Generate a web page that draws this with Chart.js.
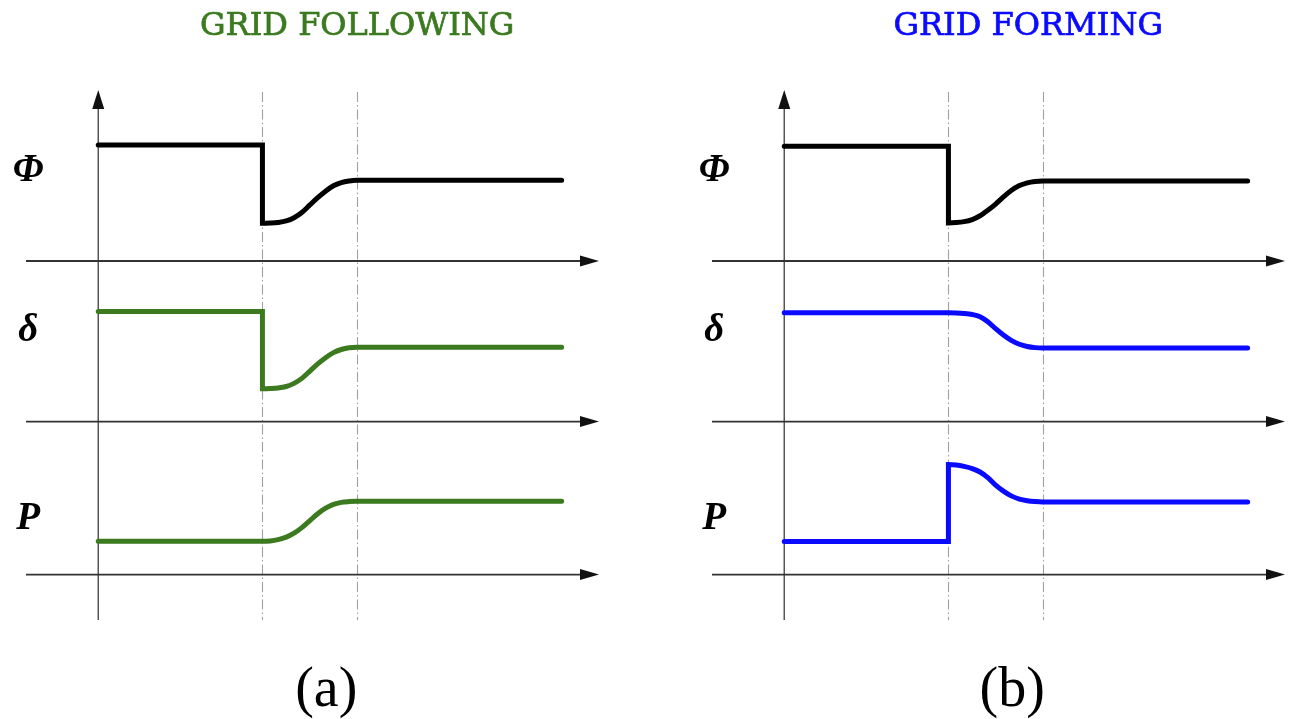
<!DOCTYPE html>
<html>
<head>
<meta charset="utf-8">
<script src="https://cdn.jsdelivr.net/npm/chart.js@4"></script>
<style>
  html, body { margin: 0; padding: 0; background: #ffffff; }
  #wrap { position: relative; width: 1291px; height: 719px; overflow: hidden; }
  canvas { position: absolute; top: 0; }
  #chartFollow { left: 0; }
  #chartForm { left: 645px; }
</style>
</head>
<body>
<div id="wrap">
  <canvas id="chartFollow" width="645" height="719"></canvas>
  <canvas id="chartForm" width="646" height="719"></canvas>
</div>
<script>
// Time axis in arbitrary units: disturbance at t = 4, new steady state reached near t = 6.3
const timeRange = [-1.76, 12.2];
const markerTimes = [4, 6.3];
const rowLabels = ['Φ', 'δ', 'P'];
const panelTitles = ['GRID FOLLOWING', 'GRID FORMING'];
const panelCaptions = ['(a)', '(b)'];
// Vertical extent of each row (signal units, 0 = row's time axis)
const rowRanges = [[0, 1.474], [0, 1.384], [-0.392, 1.319]];

// (a) grid-following converter
const followPhiT   = [0, 4, 4, 4.19, 4.38, 4.58, 4.77, 4.96, 5.15, 5.34, 5.53, 5.73, 5.92, 6.11, 6.3, 11.29];
const followPhiV   = [1.0, 1.0, 0.325, 0.327, 0.332, 0.345, 0.373, 0.418, 0.481, 0.544, 0.600, 0.648, 0.676, 0.690, 0.696, 0.696];
const followDeltaT = [0, 4, 4, 4.19, 4.38, 4.58, 4.77, 4.96, 5.15, 5.34, 5.53, 5.73, 5.92, 6.11, 6.3, 11.29];
const followDeltaV = [0.948, 0.948, 0.282, 0.284, 0.289, 0.302, 0.329, 0.372, 0.433, 0.494, 0.548, 0.594, 0.621, 0.636, 0.641, 0.641];
const followPT     = [0, 4, 4.19, 4.38, 4.58, 4.77, 4.96, 5.15, 5.34, 5.53, 5.73, 5.92, 6.11, 6.3, 11.29];
const followPV     = [0.287, 0.287, 0.290, 0.301, 0.322, 0.356, 0.404, 0.463, 0.522, 0.570, 0.604, 0.622, 0.629, 0.632, 0.632];

// (b) grid-forming converter
const formPhiT   = [0, 4, 4, 4.19, 4.38, 4.58, 4.77, 4.96, 5.15, 5.34, 5.53, 5.73, 5.92, 6.11, 6.3, 11.29];
const formPhiV   = [0.99, 0.99, 0.328, 0.331, 0.339, 0.357, 0.390, 0.437, 0.491, 0.552, 0.607, 0.650, 0.674, 0.686, 0.690, 0.690];
const formDeltaT = [0, 4, 4.19, 4.38, 4.58, 4.77, 4.96, 5.15, 5.34, 5.53, 5.73, 5.92, 6.11, 6.3, 11.29];
const formDeltaV = [0.937, 0.937, 0.936, 0.932, 0.923, 0.904, 0.861, 0.800, 0.745, 0.699, 0.666, 0.647, 0.637, 0.633, 0.633];
const formPT     = [0, 4, 4, 4.19, 4.38, 4.58, 4.77, 4.96, 5.15, 5.34, 5.53, 5.73, 5.92, 6.11, 6.3, 11.29];
const formPV     = [0.284, 0.284, 0.948, 0.944, 0.932, 0.913, 0.884, 0.835, 0.771, 0.719, 0.678, 0.650, 0.636, 0.629, 0.626, 0.626];

const GREEN = '#3b7a1f';
const BLUE = '#0a0aff';
const BLACK = '#000000';

function points(ts, vs) {
  return ts.map((t, i) => ({ x: t, y: vs[i] }));
}

function trace(ts, vs, color, axisId) {
  return {
    data: points(ts, vs),
    yAxisID: axisId,
    borderColor: color,
    borderWidth: 5,
    pointRadius: 0,
    fill: false,
    cubicInterpolationMode: 'monotone',
    borderCapStyle: 'round',
    borderJoinStyle: 'miter'
  };
}

const rowIds = ['r0', 'r1', 'r2'];

function buildScales() {
  const scales = {
    x: { type: 'linear', min: timeRange[0], max: timeRange[1], display: false }
  };
  rowIds.forEach((id, i) => {
    scales[id] = {
      type: 'linear',
      position: 'left',
      display: false,
      min: rowRanges[i][0],
      max: rowRanges[i][1],
      stack: 'rows',
      stackWeight: rowRanges[i][1] - rowRanges[i][0],
      weight: rowIds.length - i
    };
  });
  return scales;
}

function arrowHead(ctx, tipX, tipY, dirX, dirY, len, half) {
  const bx = tipX - dirX * len, by = tipY - dirY * len;
  const px = -dirY, py = dirX;
  ctx.beginPath();
  ctx.moveTo(tipX, tipY);
  ctx.lineTo(bx + px * half, by + py * half);
  ctx.lineTo(bx - px * half, by - py * half);
  ctx.closePath();
  ctx.fill();
}

// Axes with arrows, dash-dot event markers, row symbols, title and caption
const panelDecor = {
  id: 'panelDecor',
  beforeDatasetsDraw(chart, args, opts) {
    const { ctx, chartArea: a, scales } = chart;
    const x0 = scales.x.getPixelForValue(0);
    ctx.save();

    // event markers
    ctx.strokeStyle = '#a0a0a0';
    ctx.lineWidth = 1.1;
    ctx.setLineDash([10, 3, 1.5, 3]);
    markerTimes.forEach(t => {
      const px = Math.round(scales.x.getPixelForValue(t)) + 0.5;
      ctx.beginPath();
      ctx.moveTo(px, a.top + 2);
      ctx.lineTo(px, a.bottom);
      ctx.stroke();
    });
    ctx.setLineDash([]);

    // vertical signal axis
    ctx.strokeStyle = '#4a4a4a';
    ctx.fillStyle = '#111111';
    ctx.lineWidth = 1.4;
    ctx.beginPath();
    ctx.moveTo(x0, a.bottom);
    ctx.lineTo(x0, a.top + 12);
    ctx.stroke();
    arrowHead(ctx, x0, a.top, 0, -1, 19, 6);

    // time axes
    ctx.strokeStyle = '#333333';
    ctx.lineWidth = 1.8;
    rowIds.forEach(id => {
      const y = scales[id].getPixelForValue(0);
      ctx.beginPath();
      ctx.moveTo(a.left, y);
      ctx.lineTo(a.right - 12, y);
      ctx.stroke();
      arrowHead(ctx, a.right, y, 1, 0, 19, 5.5);
    });
    ctx.restore();
  },
  afterDraw(chart, args, opts) {
    const { ctx, scales } = chart;
    const x0 = scales.x.getPixelForValue(0);
    ctx.save();
    ctx.fillStyle = '#000000';
    ctx.textAlign = 'center';
    ctx.textBaseline = 'alphabetic';
    ctx.font = 'italic bold 39px "Liberation Serif", "DejaVu Serif", serif';
    rowIds.forEach((id, i) => {
      const y = scales[id].getPixelForValue(0);
      ctx.fillText(rowLabels[i], x0 - 70, y - opts.labelRise[i]);
    });

    // panel heading, slightly emboldened with a thin outline
    ctx.fillStyle = opts.titleColor;
    ctx.strokeStyle = opts.titleColor;
    ctx.lineWidth = 0.7;
    ctx.font = '32px "DejaVu Serif", "Liberation Serif", serif';
    ctx.fillText(opts.title, x0 + opts.titleDx, 35);
    ctx.strokeText(opts.title, x0 + opts.titleDx, 35);

    ctx.fillStyle = '#000000';
    ctx.font = '56px "Liberation Serif", "DejaVu Serif", serif';
    ctx.fillText(opts.caption, x0 + 228, 706);
    ctx.restore();
  }
};

function makeChart(canvasId, datasets, padding, decor) {
  return new Chart(document.getElementById(canvasId), {
    type: 'line',
    data: { datasets },
    options: {
      responsive: false,
      animation: false,
      devicePixelRatio: 1,
      layout: { padding },
      scales: buildScales(),
      plugins: {
        legend: { display: false },
        tooltip: { enabled: false },
        panelDecor: decor
      }
    },
    plugins: [panelDecor]
  });
}

makeChart('chartFollow', [
  trace(followPhiT, followPhiV, BLACK, 'r0'),
  trace(followDeltaT, followDeltaV, GREEN, 'r1'),
  trace(followPT, followPV, GREEN, 'r2')
], { top: 90, bottom: 99, left: 26, right: 46 }, {
  title: panelTitles[0], titleColor: GREEN, titleDx: 259,
  caption: panelCaptions[0], labelRise: [80, 81, 46]
});

makeChart('chartForm', [
  trace(formPhiT, formPhiV, BLACK, 'r0'),
  trace(formDeltaT, formDeltaV, BLUE, 'r1'),
  trace(formPT, formPV, BLUE, 'r2')
], { top: 90, bottom: 99, left: 67, right: 6 }, {
  title: panelTitles[1], titleColor: BLUE, titleDx: 244,
  caption: panelCaptions[1], labelRise: [80, 81, 46]
});
</script>
</body>
</html>
